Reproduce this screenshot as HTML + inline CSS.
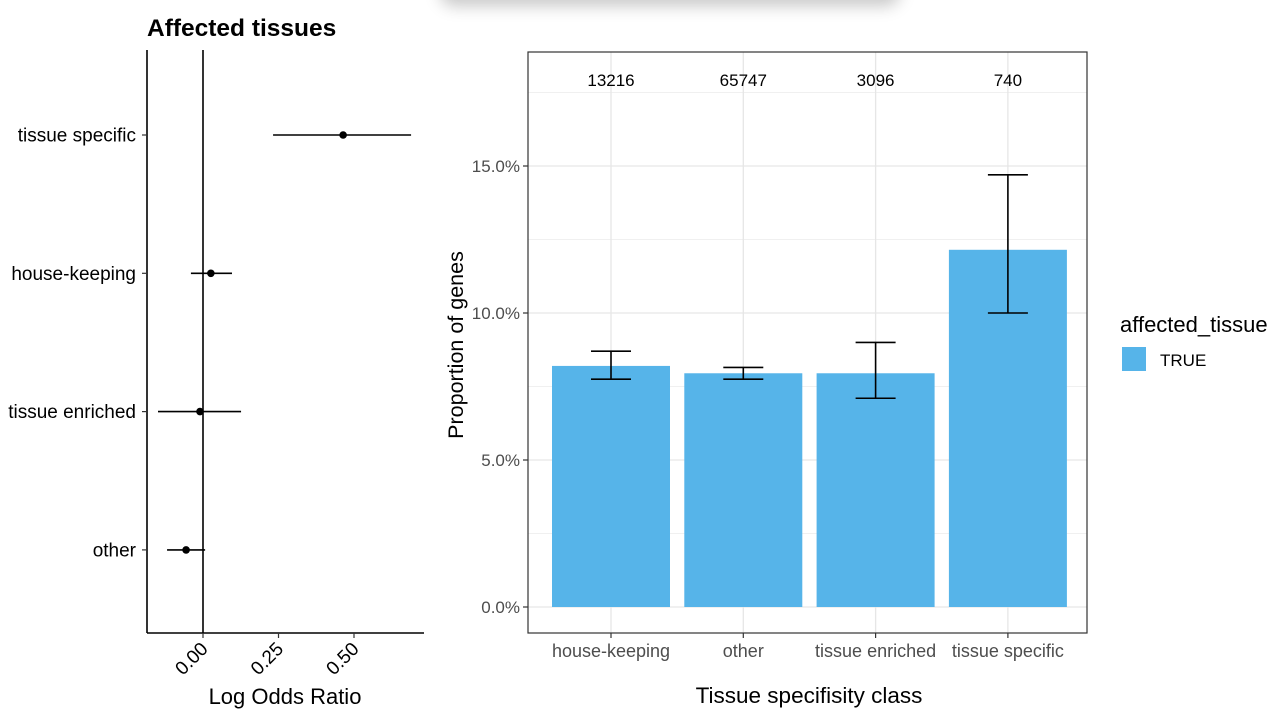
<!DOCTYPE html>
<html><head><meta charset="utf-8"><style>
body{margin:0;background:#fff;font-family:"Liberation Sans",Arial,sans-serif}
#wrap{position:relative;width:1280px;height:718px;overflow:hidden}
</style></head><body>
<div id="wrap">
<div style="position:absolute;left:440px;top:-30px;width:460px;height:30px;border-radius:14px;box-shadow:0 6px 16px rgba(0,0,0,0.22);background:#e8e8e8"></div>
<svg id="svg" width="1280" height="718" style="position:absolute;left:0;top:0" font-family="Liberation Sans, Arial, sans-serif"></svg>
</div>
<script>
// Left forest plot data
const forestCats = ["tissue specific","house-keeping","tissue enriched","other"];
const forestEst = [0.464, 0.026, -0.01, -0.056];
const forestLo = [0.232, -0.04, -0.149, -0.119];
const forestHi = [0.689, 0.096, 0.126, 0.007];
const forestTicks = [0, 0.25, 0.5];
const forestTickLabels = ["0.00","0.25","0.50"];
// Right bar chart data
const barCats = ["house-keeping","other","tissue enriched","tissue specific"];
const barVals = [8.2, 7.95, 7.95, 12.15];
const barLo = [7.75, 7.75, 7.1, 10.0];
const barHi = [8.7, 8.15, 9.0, 14.7];
const barCounts = ["13216","65747","3096","740"];
const yTicks = [0, 5, 10, 15];
const yTickLabels = ["0.0%","5.0%","10.0%","15.0%"];

const svg = document.getElementById('svg');
const NS = 'http://www.w3.org/2000/svg';
function mk(tag, attrs, parent){const e=document.createElementNS(NS,tag);for(const k in attrs)e.setAttribute(k,attrs[k]);(parent||svg).appendChild(e);return e;}

// ---- Left panel
const fx = v => 203 + v*302;
const fy = i => 135 + i*138.3;
let t = mk('text',{x:147,y:36,'font-size':24.5,'font-weight':'bold',fill:'#000'});
t.textContent='Affected tissues';


let l = mk('line',{x1:147,y1:50,x2:147,y2:633,stroke:'#000','stroke-width':1.6});


l = mk('line',{x1:147,y1:633,x2:424,y2:633,stroke:'#000','stroke-width':1.6});


l = mk('line',{x1:fx(0),y1:50,x2:fx(0),y2:633,stroke:'#000','stroke-width':1.6});


forestTicks.forEach((v,i)=>{
  mk('line',{x1:fx(v),y1:633,x2:fx(v),y2:638,stroke:'#333','stroke-width':1.2});
  const tx = mk('text',{x:fx(v)+6,y:650,'font-size':19,fill:'#000','text-anchor':'end',transform:`rotate(-45 ${fx(v)+6} 650)`});
  tx.textContent=forestTickLabels[i];
  
  
});
t = mk('text',{x:285,y:704,'font-size':22,'text-anchor':'middle',fill:'#000'});
t.textContent='Log Odds Ratio';


forestCats.forEach((c,i)=>{
  const y=fy(i);
  mk('line',{x1:142,y1:y,x2:147,y2:y,stroke:'#333','stroke-width':1.2});
  const tx=mk('text',{x:136,y:y+6.5,'font-size':19,'text-anchor':'end',fill:'#000'});
  tx.textContent=c;
  
  
  const ln=mk('line',{x1:fx(forestLo[i]),y1:y,x2:fx(forestHi[i]),y2:y,stroke:'#000','stroke-width':1.6});
  
  
  const pt=mk('circle',{cx:fx(forestEst[i]),cy:y,r:3.8,fill:'#000'});
  
  
});

// ---- Right panel
const L=528,R=1087,T=52,B=633;
const by = v => 607 - v*29.4;
const bx = i => 611 + i*132.3;
const bw = 118;
mk('rect',{x:L,y:T,width:R-L,height:B-T,fill:'#fff'});
for(let v=2.5; by(v)>T; v+=5) mk('line',{x1:L,y1:by(v),x2:R,y2:by(v),stroke:'#f0f0f0','stroke-width':1});
yTicks.forEach(v=>mk('line',{x1:L,y1:by(v),x2:R,y2:by(v),stroke:'#e6e6e6','stroke-width':1.3}));
barCats.forEach((c,i)=>mk('line',{x1:bx(i),y1:T,x2:bx(i),y2:B,stroke:'#e6e6e6','stroke-width':1.3}));
barCats.forEach((c,i)=>{
  const r=mk('rect',{x:bx(i)-bw/2,y:by(barVals[i]),width:bw,height:by(0)-by(barVals[i]),fill:'#56B4E9'});
  
  
  const g=mk('g',{stroke:'#000','stroke-width':1.6});
  
  
  mk('line',{x1:bx(i),y1:by(barLo[i]),x2:bx(i),y2:by(barHi[i])},g);
  mk('line',{x1:bx(i)-20,y1:by(barLo[i]),x2:bx(i)+20,y2:by(barLo[i])},g);
  mk('line',{x1:bx(i)-20,y1:by(barHi[i]),x2:bx(i)+20,y2:by(barHi[i])},g);
  const ct=mk('text',{x:bx(i),y:86,'font-size':17,'text-anchor':'middle',fill:'#000'});
  ct.textContent=barCounts[i];
  
  
  mk('line',{x1:bx(i),y1:B,x2:bx(i),y2:B+5,stroke:'#333','stroke-width':1.2});
  const xl=mk('text',{x:bx(i),y:657,'font-size':18,'text-anchor':'middle',fill:'#4d4d4d'});
  xl.textContent=c;
  
  
});
yTicks.forEach((v,i)=>{
  mk('line',{x1:L-5,y1:by(v),x2:L,y2:by(v),stroke:'#333','stroke-width':1.2});
  const tx=mk('text',{x:L-8,y:by(v)+6,'font-size':17,'text-anchor':'end',fill:'#4d4d4d'});
  tx.textContent=yTickLabels[i];
  
  
});
const fr=mk('rect',{x:L,y:T,width:R-L,height:B-T,fill:'none',stroke:'#333','stroke-width':1.2});


t=mk('text',{x:809,y:703,'font-size':22.5,'text-anchor':'middle',fill:'#000'});
t.textContent='Tissue specifisity class';


t=mk('text',{x:463,y:345,'font-size':21.5,'text-anchor':'middle',fill:'#000',transform:'rotate(-90 463 345)'});
t.textContent='Proportion of genes';


// legend
t=mk('text',{x:1120,y:332,'font-size':22,fill:'#000'});
t.textContent='affected_tissue';


const lk=mk('rect',{x:1122,y:347,width:24,height:24,fill:'#56B4E9'});


t=mk('text',{x:1160,y:366,'font-size':17,fill:'#000'});
t.textContent='TRUE';


</script>
</body></html>
